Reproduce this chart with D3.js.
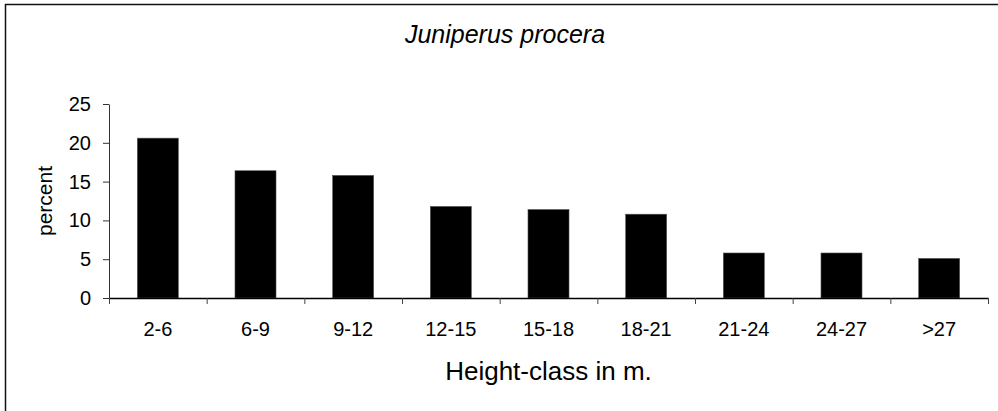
<!DOCTYPE html>
<html>
<head>
<meta charset="utf-8">
<script src="https://cdnjs.cloudflare.com/ajax/libs/d3/7.8.5/d3.min.js"></script>
<style>
  body { margin: 0; background: #fff; }
  svg text { font-family: "Liberation Sans", Arial, Helvetica, sans-serif; fill: #000; }
</style>
</head>
<body>
<div id="chart"></div>
<script>
// data
var classes = ["2-6", "6-9", "9-12", "12-15", "15-18", "18-21", "21-24", "24-27", ">27"];
var percents = [20.6, 16.4, 15.8, 11.8, 11.4, 10.8, 5.8, 5.8, 5.1];
var yTicks = [0, 5, 10, 15, 20, 25];

var width = 998, height = 411;

// plot area
var plotLeft = 109, plotRight = 988, plotTop = 104, plotBottom = 298;

var svg = d3.select("#chart").append("svg")
    .attr("width", width)
    .attr("height", height);

// frame (only top and left edges fall inside the picture)
svg.append("rect")
    .attr("x", 5.5)
    .attr("y", 4.5)
    .attr("width", 1100)
    .attr("height", 500)
    .attr("fill", "none")
    .attr("stroke", "#111")
    .attr("stroke-width", 1.5);

var x = d3.scaleBand()
    .domain(classes)
    .range([plotLeft, plotRight])
    .paddingInner(0.58)
    .paddingOuter(0.29);

//index scale for the tick marks between the categories
var xEdge = d3.scaleLinear()
    .domain([0, classes.length])
    .range([plotLeft, plotRight]);

var y = d3.scaleLinear()
    .domain([0, 25])
    .range([plotBottom, plotTop]);

//bars
svg.append("g").selectAll("rect")
    .data(percents)
    .enter().append("rect")
    .attr("x", function(d, i) { return x(classes[i]); })
    .attr("y", function(d) { return y(d); })
    .attr("width", x.bandwidth())
    .attr("height", function(d) { return y(0) - y(d); })
    .attr("fill", "#000")
    .attr("stroke", "#555")
    .attr("stroke-width", 0.6);

//y axis
var yAxis = svg.append("g")
    .attr("transform", "translate(" + plotLeft + ",0)")
    .call(d3.axisLeft(y).tickValues(yTicks).tickSize(6).tickPadding(12).tickSizeOuter(0));
yAxis.select(".domain").attr("stroke", "#333");
yAxis.selectAll(".tick line").attr("stroke", "#333");
yAxis.selectAll("text").style("font-size", "20px");

//x axis: tick marks at category edges
var xAxis = svg.append("g")
    .attr("transform", "translate(0," + plotBottom + ")")
    .call(d3.axisBottom(xEdge).tickValues(d3.range(classes.length + 1)).tickFormat("").tickSize(6).tickSizeOuter(0));
xAxis.select(".domain").attr("stroke", "#000").attr("stroke-width", 1.3);
xAxis.selectAll(".tick line").attr("stroke", "#444");

//category labels
svg.append("g").selectAll("text")
    .data(classes)
    .enter().append("text")
    .attr("x", function(d) { return x(d) + x.bandwidth() / 2; })
    .attr("y", 336)
    .attr("text-anchor", "middle")
    .style("font-size", "20px")
    .text(function(d) { return d; });

//titles
svg.append("text")
    .attr("x", 505)
    .attr("y", 43)
    .attr("text-anchor", "middle")
    .style("font-size", "25px")
    .style("font-style", "italic")
    .text("Juniperus procera");

svg.append("text")
    .attr("x", (plotLeft + plotRight) / 2)
    .attr("y", 380)
    .attr("text-anchor", "middle")
    .style("font-size", "26px")
    .text("Height-class in m.");

svg.append("text")
    .attr("transform", "translate(52,201) rotate(-90)")
    .attr("text-anchor", "middle")
    .style("font-size", "21px")
    .text("percent");
</script>
</body>
</html>
